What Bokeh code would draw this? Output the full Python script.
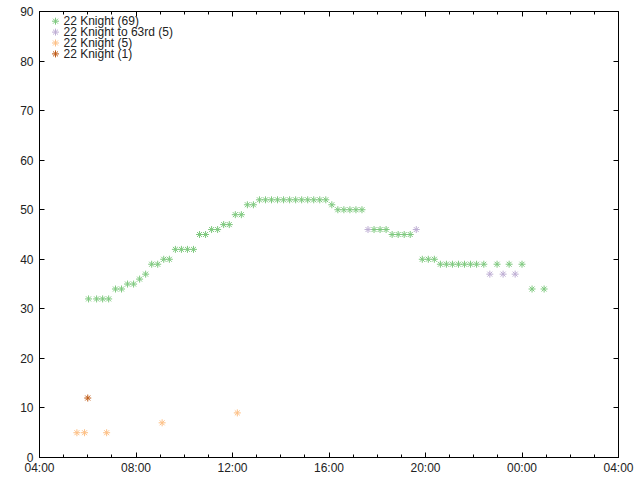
from bokeh.plotting import figure
from bokeh.models import (FixedTicker, LinearAxis, Range1d, CustomJSTickFormatter,
                          ColumnDataSource)
from bokeh.core.properties import value
from bokeh.embed import file_html
from bokeh.resources import INLINE

# ---- data ----
green_label = "22 Knight (69)"
green_times = ["06:02", "06:22", "06:37", "06:52", "07:09", "07:24", "07:39", "07:54",
               "08:09", "08:24", "08:39", "08:54", "09:09", "09:23", "09:38", "09:53",
               "10:08", "10:23", "10:38", "10:53", "11:08", "11:23", "11:38", "11:52",
               "12:07", "12:22", "12:37", "12:52",
               "13:07", "13:22", "13:37", "13:52", "14:07", "14:22", "14:37", "14:52",
               "15:07", "15:22", "15:37", "15:52", "16:07",
               "16:22", "16:37", "16:52", "17:07", "17:22",
               "17:52", "18:07", "18:22", "18:37", "18:52", "19:07", "19:22",
               "19:52", "20:07", "20:22",
               "20:37", "20:52", "21:07", "21:22", "21:37", "21:52", "22:07", "22:25",
               "22:58", "23:28", "00:00", "00:25", "00:55"]
green_values = [32, 32, 32, 32, 34, 34, 35, 35,
                36, 37, 39, 39, 40, 40, 42, 42,
                42, 42, 45, 45, 46, 46, 47, 47,
                49, 49, 51, 51,
                52, 52, 52, 52, 52, 52, 52, 52,
                52, 52, 52, 52, 51,
                50, 50, 50, 50, 50,
                46, 46, 46, 45, 45, 45, 45,
                40, 40, 40,
                39, 39, 39, 39, 39, 39, 39, 39,
                39, 39, 39, 34, 34]

purple_label = "22 Knight to 63rd (5)"
purple_times = ["17:37", "19:37", "22:40", "23:13", "23:43"]
purple_values = [46, 46, 37, 37, 37]

orange_label = "22 Knight (5)"
orange_times = ["05:33", "05:52", "06:47", "09:05", "12:12"]
orange_values = [5, 5, 5, 7, 9]

red_label = "22 Knight (1)"
red_times = ["06:00"]
red_values = [12]

x_major_hours = [4, 8, 12, 16, 20, 24, 28]
y_ticks = [0, 10, 20, 30, 40, 50, 60, 70, 80, 90]


def to_hours(t):
    h, m = map(int, t.split(":"))
    v = h + m / 60.0
    return v + 24 if v < 4 else v


FONT = "Liberation Sans"
W, H = 640, 480
BL, BR, BT, BB = 39, 22, 11, 23
FW, FH = W - BL - BR, H - BT - BB

p = figure(width=W, height=H, output_backend="svg", toolbar_location=None,
           x_range=Range1d(4, 28), y_range=Range1d(0, 90),
           min_border_left=BL, min_border_right=BR, min_border_top=BT,
           min_border_bottom=BB)
p.xgrid.visible = False
p.ygrid.visible = False
p.outline_line_color = "black"
p.outline_line_width = 1
p.background_fill_color = "white"
p.border_fill_color = "white"

xt = FixedTicker(ticks=x_major_hours, minor_ticks=list(range(4, 29)))
yt = FixedTicker(ticks=y_ticks, minor_ticks=[])
fmt = CustomJSTickFormatter(code="""
const h = Math.round(tick) % 24;
return (h < 10 ? '0' : '') + h + ':00';
""")
blank = CustomJSTickFormatter(code="return '';")

for ax in p.xaxis:
    ax.ticker = xt
    ax.formatter = fmt
for ax in p.yaxis:
    ax.ticker = yt

for ax in list(p.xaxis) + list(p.yaxis):
    ax.axis_line_color = None
    ax.major_tick_in = 5
    ax.major_tick_out = 0
    ax.minor_tick_in = 3
    ax.minor_tick_out = 0
    ax.major_tick_line_color = "black"
    ax.minor_tick_line_color = "black"
    ax.major_label_text_font = FONT
    ax.major_label_text_font_size = "12px"
    ax.major_label_text_color = "#222222"
p.xaxis.major_label_standoff = 3
p.yaxis.major_label_standoff = 6

top = LinearAxis(ticker=xt, formatter=blank, axis_line_color=None,
                 major_tick_in=5, major_tick_out=0, minor_tick_in=3, minor_tick_out=0,
                 major_label_standoff=0)
right = LinearAxis(ticker=yt, formatter=blank, axis_line_color=None,
                   major_tick_in=5, major_tick_out=0, minor_tick_in=0, minor_tick_out=0,
                   major_label_standoff=0)
p.add_layout(top, "above")
p.add_layout(right, "right")

series = [
    (green_label, green_times, green_values, "#7fc97f"),
    (purple_label, purple_times, purple_values, "#beaed4"),
    (orange_label, orange_times, orange_values, "#fdc086"),
    (red_label, red_times, red_values, "#bf5b17"),
]
for label, times, vals, color in series:
    p.scatter([to_hours(t) for t in times], vals, marker="asterisk", size=7,
              line_color=color, line_width=1)

# ---- key (legend) laid out in frame pixels, top-left ----
p.extra_x_ranges = {"px": Range1d(0, FW)}
p.extra_y_ranges = {"px": Range1d(FH, 0)}
KEY_X, KEY_TEXT_X, KEY_Y0, KEY_DY = 16, 24, 9.7, 10.9
key = ColumnDataSource(dict(
    x=[KEY_X] * len(series),
    tx=[KEY_TEXT_X] * len(series),
    y=[KEY_Y0 + i * KEY_DY for i in range(len(series))],
    label=[s[0] for s in series],
    color=[s[3] for s in series],
))
p.scatter("x", "y", source=key, marker="asterisk", size=7, line_color="color",
          line_width=1, x_range_name="px", y_range_name="px")
p.text("tx", "y", text="label", source=key, x_range_name="px", y_range_name="px",
       text_font=value(FONT), text_font_size="12px", text_color="#222222",
       text_baseline="middle", text_align="left")

open("out.html", "w").write(file_html(p, INLINE))
